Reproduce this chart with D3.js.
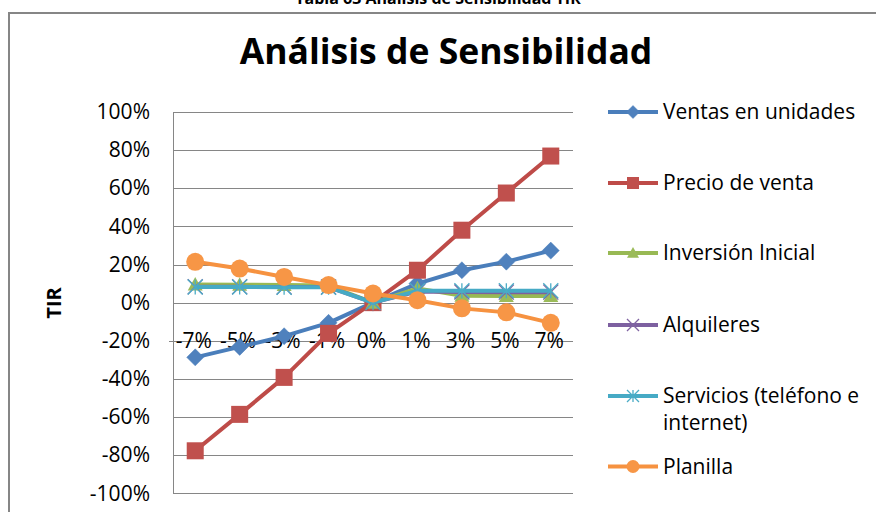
<!DOCTYPE html>
<html>
<head>
<meta charset="utf-8">
<script src="https://cdn.jsdelivr.net/npm/d3@7"></script>
<style>
  html, body { margin: 0; padding: 0; background: #ffffff; }
  svg { display: block; font-family: "Open Sans", "Noto Sans", sans-serif; }
</style>
</head>
<body>
<svg id="chart" width="876" height="512"></svg>
<script>
// ---- data ----
const categories = ["-7%", "-5%", "-3%", "-1%", "0%", "1%", "3%", "5%", "7%"];
const seriesNames = ["Ventas en unidades", "Precio de venta", "Inversión Inicial", "Alquileres", "Servicios (teléfono e internet)", "Planilla"];
const ventas      = [-28.7, -23.2, -17.6, -10.6, 0, 10.0, 17.0, 21.5, 27.3];
const precio      = [-77.7, -58.6, -39.2, -16.1, 0, 17.0, 38.0, 57.5, 76.9];
const inversion   = [9.5, 9.4, 9.2, 9.0, 0, 7.5, 3.6, 3.5, 3.5];
const alquileres  = [8.3, 8.3, 8.2, 8.2, 0, 5.8, 5.6, 5.5, 5.5];
const servicios   = [8.2, 8.2, 8.1, 8.1, 0, 6.2, 6.2, 6.2, 6.2];
const planilla    = [21.4, 17.9, 13.5, 9.2, 4.8, 1.3, -3.0, -5.1, -10.6];
const yTicks = [-100, -80, -60, -40, -20, 0, 20, 40, 60, 80, 100];
const caption = "Tabla 63 Análisis de Sensibilidad TIR";
const title = "Análisis de Sensibilidad";
const yTitle = "TIR";

const seriesValues = [ventas, precio, inversion, alquileres, servicios, planilla];
const lineColors   = ["#4A7EBB", "#BE4B48", "#98B954", "#7D60A0", "#46AAC5", "#F69240"];
const markerColors = ["#4F81BD", "#C0504D", "#9BBB59", "#8064A2", "#4BACC6", "#F79646"];
const markerTypes  = ["diamond", "square", "triangle", "x", "star", "circle"];

// ---- layout ----
const svg = d3.select("#chart");
const plot = { left: 173, right: 573, top: 112, bottom: 493.3 };
const gridColor = "#868686";

const x = d3.scalePoint().domain(categories).range([plot.left, plot.right]).padding(0.5);
const y = d3.scaleLinear().domain([-100, 100]).range([plot.bottom, plot.top]);

// caption (cut at top edge, as in the reference)
svg.append("text").attr("x", 438).attr("y", 3.5)
  .attr("text-anchor", "middle").attr("font-weight", "bold").attr("font-size", 16)
  .attr("fill", "#000").text(caption);

// chart frame
svg.append("line").attr("x1", 9).attr("x2", 876).attr("y1", 13).attr("y2", 13)
  .attr("stroke", gridColor).attr("stroke-width", 2);
svg.append("line").attr("x1", 9).attr("x2", 9).attr("y1", 12).attr("y2", 512)
  .attr("stroke", gridColor).attr("stroke-width", 2);

// title
svg.append("text").attr("x", 446).attr("y", 64)
  .attr("text-anchor", "middle").attr("font-weight", "bold").attr("font-size", 35.5)
  .attr("fill", "#000").text(title);

// gridlines
const grid = svg.append("g").attr("transform", `translate(${plot.left},0)`)
  .call(d3.axisLeft(y).tickValues(yTicks).tickSize(-(plot.right - plot.left)).tickFormat(""));
grid.select(".domain").remove();
grid.selectAll(".tick line").attr("stroke", gridColor).attr("stroke-width", 1)
  .attr("shape-rendering", "crispEdges");

// y axis
const yAxis = svg.append("g").attr("transform", `translate(${plot.left},0)`)
  .call(d3.axisLeft(y).tickValues(yTicks).tickSize(0).tickPadding(23).tickFormat(d => d + "%"));
yAxis.select(".domain").attr("stroke", gridColor).attr("shape-rendering", "crispEdges");
yAxis.selectAll("text").attr("font-size", 21).attr("fill", "#000")
  .attr("font-family", "'Open Sans', sans-serif");

// x axis (crossing at -20%)
const xAxis = svg.append("g").attr("transform", `translate(0,${y(-20)})`)
  .call(d3.axisBottom(x).tickSize(0).tickPadding(0));
xAxis.select(".domain").attr("d", `M${plot.left - 4},0.5H${plot.right}`)
  .attr("stroke", gridColor).attr("shape-rendering", "crispEdges");
xAxis.selectAll("text").attr("font-size", 21).attr("fill", "#000")
  .attr("font-family", "'Open Sans', sans-serif")
  .attr("y", 0).attr("dy", "0.36em").attr("dx", -2);

// y title
svg.append("text").attr("transform", `translate(61,303) rotate(-90)`)
  .attr("text-anchor", "middle").attr("font-weight", "bold").attr("font-size", 20)
  .attr("fill", "#000").text(yTitle);

// marker drawing
function drawMarker(g, type, cx, cy, color, s) {
  if (type === "diamond") {
    g.append("path").attr("d", `M${cx},${cy - s}L${cx + s},${cy}L${cx},${cy + s}L${cx - s},${cy}Z`)
      .attr("fill", color).attr("stroke", color).attr("stroke-width", 0.5);
  } else if (type === "square") {
    g.append("rect").attr("x", cx - s).attr("y", cy - s).attr("width", 2 * s).attr("height", 2 * s)
      .attr("fill", color);
  } else if (type === "triangle") {
    g.append("path").attr("d", `M${cx},${cy - s}L${cx + s},${cy + s * 0.8}L${cx - s},${cy + s * 0.8}Z`)
      .attr("fill", color);
  } else if (type === "x") {
    g.append("path").attr("d", `M${cx - s},${cy - s}L${cx + s},${cy + s}M${cx - s},${cy + s}L${cx + s},${cy - s}`)
      .attr("stroke", color).attr("stroke-width", 1.3).attr("fill", "none");
  } else if (type === "star") {
    g.append("path").attr("d", `M${cx - s},${cy - s}L${cx + s},${cy + s}M${cx - s},${cy + s}L${cx + s},${cy - s}M${cx},${cy - s}L${cx},${cy + s}`)
      .attr("stroke", color).attr("stroke-width", 1.3).attr("fill", "none");
  } else if (type === "circle") {
    g.append("circle").attr("cx", cx).attr("cy", cy).attr("r", s).attr("fill", color);
  }
}
const markerSize = { diamond: 8.5, square: 8.5, triangle: 7.5, x: 7.5, star: 7.5, circle: 9 };
const legendMarkerSize = { diamond: 6.5, square: 6, triangle: 6, x: 6, star: 6, circle: 6.5 };

// series
const line = d3.line().x((d, i) => x(categories[i])).y(d => y(d));
const seriesG = svg.append("g");
seriesValues.forEach((vals, si) => {
  const g = seriesG.append("g");
  g.append("path").datum(vals).attr("d", line)
    .attr("fill", "none").attr("stroke", lineColors[si]).attr("stroke-width", 4)
    .attr("stroke-linejoin", "round");
  vals.forEach((v, i) => drawMarker(g, markerTypes[si], x(categories[i]), y(v), markerColors[si], markerSize[markerTypes[si]]));
});

// legend
const legendY = [112, 183, 253, 325, 396, 466.5];
const legend = svg.append("g");
seriesNames.forEach((name, si) => {
  const ly = legendY[si];
  legend.append("line").attr("x1", 608).attr("x2", 658).attr("y1", ly).attr("y2", ly)
    .attr("stroke", lineColors[si]).attr("stroke-width", 4);
  drawMarker(legend, markerTypes[si], 633, ly, markerColors[si], legendMarkerSize[markerTypes[si]]);
  const t = legend.append("text").attr("x", 663).attr("y", ly).attr("dy", "0.35em")
    .attr("font-size", 21).attr("fill", "#000");
  if (si === 4) {
    t.text("Servicios (teléfono e");
    legend.append("text").attr("x", 663).attr("y", ly + 27).attr("dy", "0.35em")
      .attr("font-size", 21).attr("fill", "#000").text("internet)");
  } else {
    t.text(name);
  }
});
</script>
</body>
</html>
